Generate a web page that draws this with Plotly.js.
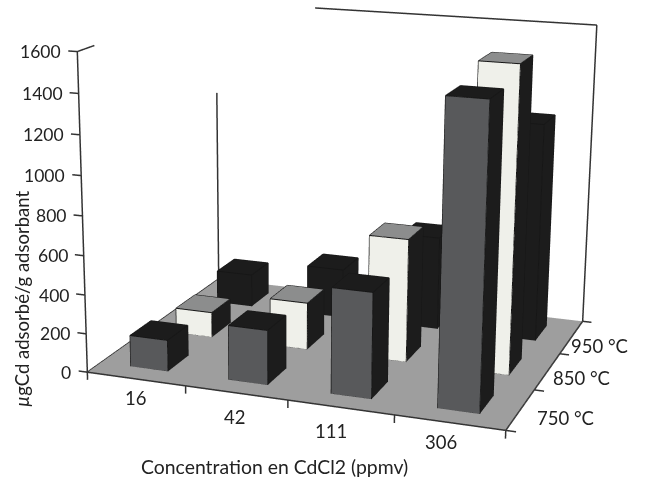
<!DOCTYPE html>
<html><head><meta charset="utf-8"><script src="https://cdn.plot.ly/plotly-3.0.1.min.js"></script>
<style>html,body{margin:0;padding:0;background:#fff;width:646px;height:481px;overflow:hidden}
#g{position:absolute;left:-199px;top:-519px;width:1000px;height:1502px}</style></head><body><div id="g"></div>
<script>
const concentrations=['16','42','111','306'];
const temperatures=['750 °C','850 °C','950 °C'];
const v750=[162,279,532,1491];
const v850=[134,248,640,1553];
const v950=[179,266,499,1148];
const zTicks=[0,200,400,600,800,1000,1200,1400,1600];
const series=[v750,v850,v950];
const faces=[{front:'#58595b',side:'#1c1c1c',top:'#1c1c1c'},{front:'#eff0ea',side:'#1c1c1c',top:'#8c8d8d'},{front:'#1c1c1c',side:'#1c1c1c',top:'#1c1c1c'}];
const LW=0.192,LD=0.222,INK='#333';
const traces=[];
traces.push({type:'mesh3d',x:[0,4,4,0],y:[0,0,3,3],z:[0,0,0,0],i:[0,0],j:[1,2],k:[2,3],color:'#9e9e9e',flatshading:true,lighting:{ambient:1,diffuse:0,specular:0,fresnel:0},hoverinfo:'skip'});
const ex=[],ey=[],ez=[];
function seg(a,b){ex.push(a[0],b[0],null);ey.push(a[1],b[1],null);ez.push(a[2],b[2],null)}
function box(i,j,h,c){
 const x0=i+.5-LW,x1=i+.5+LW,y0=j+.5-LD,y1=j+.5+LD;
 const X=[x0,x1,x1,x0,x0,x1,x1,x0],Y=[y0,y0,y1,y1,y0,y0,y1,y1],Z=[0,0,0,0,h,h,h,h];
 traces.push({type:'mesh3d',x:X,y:Y,z:Z,i:[0,0,1,1,4,4,3,3,0,0],j:[1,5,2,6,5,6,2,6,3,7],k:[5,4,6,5,6,7,6,7,7,4],
  facecolor:[c.front,c.front,c.side,c.side,c.top,c.top,c.side,c.side,c.side,c.side],flatshading:true,lighting:{ambient:1,diffuse:0,specular:0,fresnel:0},hoverinfo:'skip'});
 for(let n=0;n<4;n++){const m=(n+1)%4;seg([X[n],Y[n],0],[X[m],Y[m],0]);seg([X[n],Y[n],h],[X[m],Y[m],h]);seg([X[n],Y[n],0],[X[n],Y[n],h])}
}
series.forEach((s,j)=>s.forEach((v,i)=>box(i,j,v,faces[j])));
traces.push({type:'scatter3d',mode:'lines',x:ex,y:ey,z:ez,line:{color:'#161616',width:2},hoverinfo:'skip'});
const ax=[],ay=[],az=[];
function a(p,q){ax.push(p[0],q[0],null);ay.push(p[1],q[1],null);az.push(p[2],q[2],null)}
a([0,0,0],[4,0,0]);a([4,0,0],[4,3,0]);a([0,0,0],[0,3,0]);
a([0,0,0],[0,0,1600]);a([0,0,1600],[0,.32,1600]);
a([0,3,0],[0,3,1090]);a([4,3,0],[4,3,1600]);a([1.1,3,1600],[4,3,1600]);
zTicks.forEach(z=>a([-.09,0,z],[0,0,z]));
[0,1,2,3,4].forEach(x=>a([x,0,-40],[x,0,0]));
[0,1,2,3].forEach(y=>a([4,y,0],[4.09,y,0]));
traces.push({type:'scatter3d',mode:'lines',x:ax,y:ay,z:az,line:{color:INK,width:3},hoverinfo:'skip'});
const font={family:'Lato, "Open Sans", sans-serif',size:18.5,color:'#222'};
const ann=[];
zTicks.forEach(z=>ann.push({x:0,y:0,z:z,text:String(z),showarrow:false,xanchor:'right',yanchor:'middle',xshift:-14,font:{...font,size:17.5}}));
const catShift=[[0,19],[-2,24],[-10,24],[-9,19]];
concentrations.forEach((t,i)=>ann.push({x:i+.5,y:0,z:0,text:t,showarrow:false,xanchor:'center',yanchor:'middle',xshift:catShift[i][0],yshift:-catShift[i][1],font}));
const tShift=[[15,-8],[4,-7],[-3,-9]];
temperatures.forEach((t,j)=>ann.push({x:4,y:j+.5,z:0,text:t,showarrow:false,xanchor:'left',yanchor:'middle',xshift:tShift[j][0],yshift:tShift[j][1],font}));
const hide={visible:false,showgrid:false,zeroline:false,showticklabels:false,showspikes:false,showbackground:false,autorange:false};
const L=-199,T=-519,W=1000,H=1502;
const px=x=>(x-L)/W,py=y=>1-(y-T)/H;
Plotly.newPlot('g',traces,{width:W,height:H,margin:{l:0,r:0,t:0,b:0},showlegend:false,paper_bgcolor:'#fff',
 scene:{domain:{x:[0,1],y:[0,1]},xaxis:{...hide,range:[-.4,4.4]},yaxis:{...hide,range:[-.4,3.4]},zaxis:{...hide,range:[-100,1700]},
  aspectmode:'manual',aspectratio:{x:1.58976,y:1.30923,z:1.125},
  camera:{eye:{x:1.7971,y:-5.2138,z:1.4482},center:{x:.0133,y:-.4454,z:0},up:{x:-.122,y:.3172,z:1},projection:{type:'perspective'}},annotations:ann},
 annotations:[
  {xref:'paper',yref:'paper',x:px(274),y:py(467),text:'Concentration en CdCl2 (ppmv)',showarrow:false,xanchor:'center',yanchor:'middle',font:{...font,size:19.4}},
  {xref:'paper',yref:'paper',x:px(22),y:py(299),text:'<i>µ</i>gCd adsorbé/g adsorbant',textangle:-90,showarrow:false,xanchor:'center',yanchor:'middle',font:{...font,size:18.5}}
 ]},{displayModeBar:false});
</script></body></html>
